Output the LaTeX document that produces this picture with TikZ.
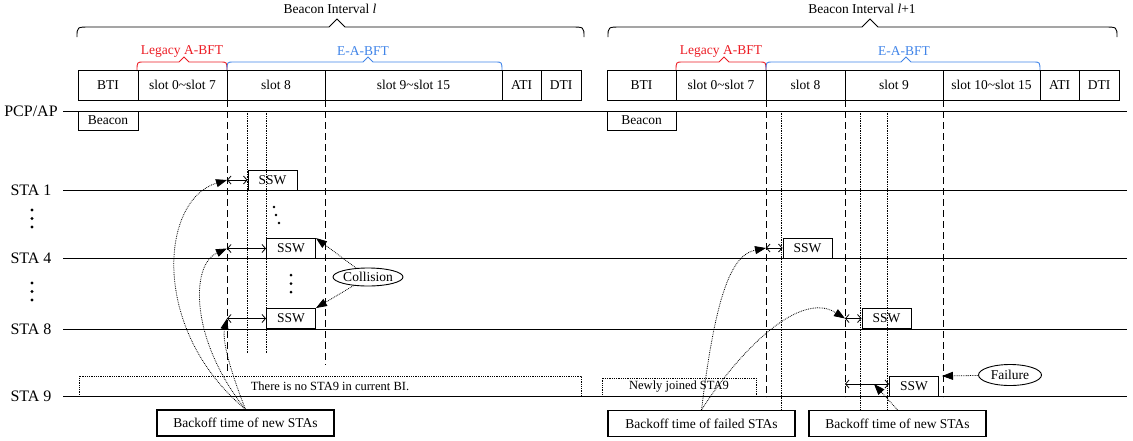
\documentclass[tikz,border=0pt]{standalone}
\usepackage{fontspec}
\setmainfont{Liberation Serif}
\usetikzlibrary{arrows.meta,shapes.geometric}
\definecolor{legacyred}{RGB}{236,28,36}
\definecolor{eabftblue}{RGB}{64,132,232}
\newcommand{\spanbrace}[8]{%
\draw[#1] (#2,#6) .. controls (#2,#5) .. (#2+#8,#5) -- (#4-#5+#7,#5) -- (#4,#7) -- (#4+#5-#7,#5) -- (#3-#8,#5) .. controls (#3,#5) .. (#3,#6);}
\begin{document}
\begin{tikzpicture}[x=1pt, y=-1pt, line width=0.9pt,
  stalabel/.style={font=\fontsize{16}{18}\selectfont, inner sep=0pt},
  heading/.style={font=\fontsize{13.5}{15}\selectfont, inner sep=0pt},
  slotbox/.style={draw, minimum height=30, inner sep=0pt, font=\fontsize{13.5}{15}\selectfont},
  beaconbox/.style={draw, minimum height=19, inner sep=0pt, font=\fontsize{13.5}{15}\selectfont},
  sswbox/.style={draw, minimum width=49, minimum height=20, inner sep=0pt, font=\fontsize{13.5}{15}\selectfont},
  notebox/.style={draw, line width=1.3pt, minimum height=26, inner sep=0pt, font=\fontsize{13.5}{15}\selectfont},
  absentbox/.style={draw, densely dotted, line width=0.8pt, inner sep=0pt, font=\fontsize{12.5}{14}\selectfont},
  remark/.style={draw, ellipse, inner sep=0pt, font=\fontsize{13.5}{15}\selectfont},
  slotedge/.style={dash pattern=on 7pt off 4pt, line width=1pt},
  guide/.style={densely dotted, line width=0.7pt},
  timeline/.style={line width=1pt},
  gaparrow/.style={{Straight Barb[length=3.5pt,width=8pt]}-{Straight Barb[length=3.5pt,width=8pt]}, line width=0.8pt},
  backoff/.style={densely dotted, line width=0.8pt, -{Triangle[length=11pt,width=8pt]}}]
\useasboundingbox (0,0) rectangle (1133,440);
\node[heading] (bi1) at (330,9) {Beacon Interval \textit{l}};
\node[heading] (bi2) at (862,9) {Beacon Interval \textit{l}+1};
\spanbrace{}{77}{584}{337}{27}{37}{19}{13}
\spanbrace{}{608}{1117}{870}{27}{37}{19}{13}
\node[heading, text=legacyred] (leg1) at (182,51) {Legacy A-BFT};
\node[heading, text=eabftblue] (eab1) at (363,51) {E-A-BFT};
\node[heading, text=legacyred] (leg2) at (721,51) {Legacy A-BFT};
\node[heading, text=eabftblue] (eab2) at (904,51) {E-A-BFT};
\spanbrace{legacyred}{137}{227}{184}{62}{71}{57}{7}
\spanbrace{eabftblue}{227}{502}{368}{62}{71}{57}{7}
\spanbrace{legacyred}{676}{766}{724}{62}{71}{57}{7}
\spanbrace{eabftblue}{766}{1040}{906}{62}{71}{57}{7}
\node[slotbox, minimum width=60] (bti1) at (108,85) {BTI};
\node[slotbox, minimum width=89] (s07a) at (182.5,85) {slot 0\textasciitilde slot 7};
\node[slotbox, minimum width=98] (s8a) at (276,85) {slot 8};
\node[slotbox, minimum width=177] (s915a) at (413.5,85) {slot 9\textasciitilde slot 15};
\node[slotbox, minimum width=39] (ati1) at (521.5,85) {ATI};
\node[slotbox, minimum width=40] (dti1) at (561,85) {DTI};
\node[slotbox, minimum width=69] (bti2) at (641.5,85) {BTI};
\node[slotbox, minimum width=90] (s07b) at (721,85) {slot 0\textasciitilde slot 7};
\node[slotbox, minimum width=79] (s8b) at (805.5,85) {slot 8};
\node[slotbox, minimum width=98] (s9b) at (894,85) {slot 9};
\node[slotbox, minimum width=97] (s1015b) at (991.5,85) {slot 10\textasciitilde slot 15};
\node[slotbox, minimum width=39] (ati2) at (1059.5,85) {ATI};
\node[slotbox, minimum width=40] (dti2) at (1099,85) {DTI};
\node[absentbox, minimum width=502, minimum height=20] (none9) at (330,386) {There is no STA9 in current BI.};
\node[absentbox, minimum width=154, minimum height=18] (join9) at (679,387) {Newly joined STA9};
\foreach \n/\lab/\y in {pcp/{PCP/AP}/111, sta1/{STA 1}/190, sta4/{STA 4}/258, sta8/{STA 8}/329, sta9/{STA 9}/396}{
  \node[stalabel] (\n) at (31,\y) {\lab};
  \coordinate (\n w) at (63,\y);
  \coordinate (\n e) at (1127,\y);
  \draw[timeline] (\n w) -- (\n e);
}
\foreach \y in {210,218.5,227,283,291.5,300}
  \fill (32,\y) circle[radius=1.7pt];
\fill (274,207) circle[radius=1.4pt];
\fill (276,215) circle[radius=1.4pt];
\fill (279,223) circle[radius=1.4pt];
\fill (291,275) circle[radius=1.5pt];
\fill (291,283.5) circle[radius=1.5pt];
\fill (291,292) circle[radius=1.5pt];
\node[beaconbox, minimum width=60] (bcn1) at (108,120.5) {Beacon};
\node[beaconbox, minimum width=69] (bcn2) at (641.5,120.5) {Beacon};
\draw[slotedge] (227,100) -- (227,372);
\draw[slotedge] (325,100) -- (325,365);
\draw[guide] (247,111) -- (247,354);
\draw[guide] (266,111) -- (266,354);
\draw[slotedge] (766,100) -- (766,397);
\draw[slotedge] (845,100) -- (845,397);
\draw[slotedge] (943,100) -- (943,397);
\draw[guide] (781,111) -- (781,410);
\draw[guide] (860,111) -- (860,411);
\draw[guide] (887,111) -- (887,411);
\node[sswbox] (ssw1a) at (272.5,180) {SSW};
\node[sswbox] (ssw4a) at (291,248.5) {SSW};
\node[sswbox] (ssw8a) at (291,318.5) {SSW};
\node[sswbox] (ssw4b) at (807.5,248) {SSW};
\node[sswbox] (ssw8b) at (886.5,318.5) {SSW};
\node[sswbox] (ssw9b) at (914,386) {SSW};
\coordinate (s1a) at (227,180);
\coordinate (s4a) at (227,248.5);
\coordinate (s8a) at (227,318.5);
\coordinate (r4a) at (766,248);
\coordinate (r8a) at (845,318.5);
\coordinate (r9a) at (845,384);
\draw[gaparrow] (s1a) -- (ssw1a.west);
\draw[gaparrow] (s4a) -- (ssw4a.west);
\draw[gaparrow] (s8a) -- (ssw8a.west);
\draw[gaparrow] (r4a) -- (ssw4b.west);
\draw[gaparrow] (r8a) -- (ssw8b.west);
\draw[gaparrow] (r9a) -- (r9a -| ssw9b.west);
\node[remark, minimum width=60, minimum height=18] (coll) at (368,277) {Collision};
\node[remark, minimum width=63, minimum height=21] (fail) at (1010,375) {Failure};
\coordinate (fail9) at (942,376);
\coordinate (new9) at (874,384);
\draw[backoff] (coll) -- (ssw4a.north east);
\draw[backoff] (coll) -- (ssw8a.north east);
\draw[backoff] (fail) -- (fail9);
\node[notebox, minimum width=177] (newa) at (245.5,423) {Backoff time of new STAs};
\node[notebox, minimum width=187] (failb) at (701.5,423.5) {Backoff time of failed STAs};
\node[notebox, minimum width=177] (newb) at (897.5,423.5) {Backoff time of new STAs};
\draw[backoff] (newa.north) .. controls (150,330) and (160,200) .. (s1a);
\draw[backoff] (newa.north) .. controls (190,340) and (190,265) .. (s4a);
\draw[backoff] (newa.north) .. controls (230,370) and (222,340) .. (s8a);
\draw[backoff] (failb.north) .. controls (715,300) and (730,255) .. (r4a);
\draw[backoff] (failb.north) .. controls (740,350) and (800,290) .. (r8a);
\draw[backoff] (newb.north) -- (new9);
\end{tikzpicture}
\end{document}
